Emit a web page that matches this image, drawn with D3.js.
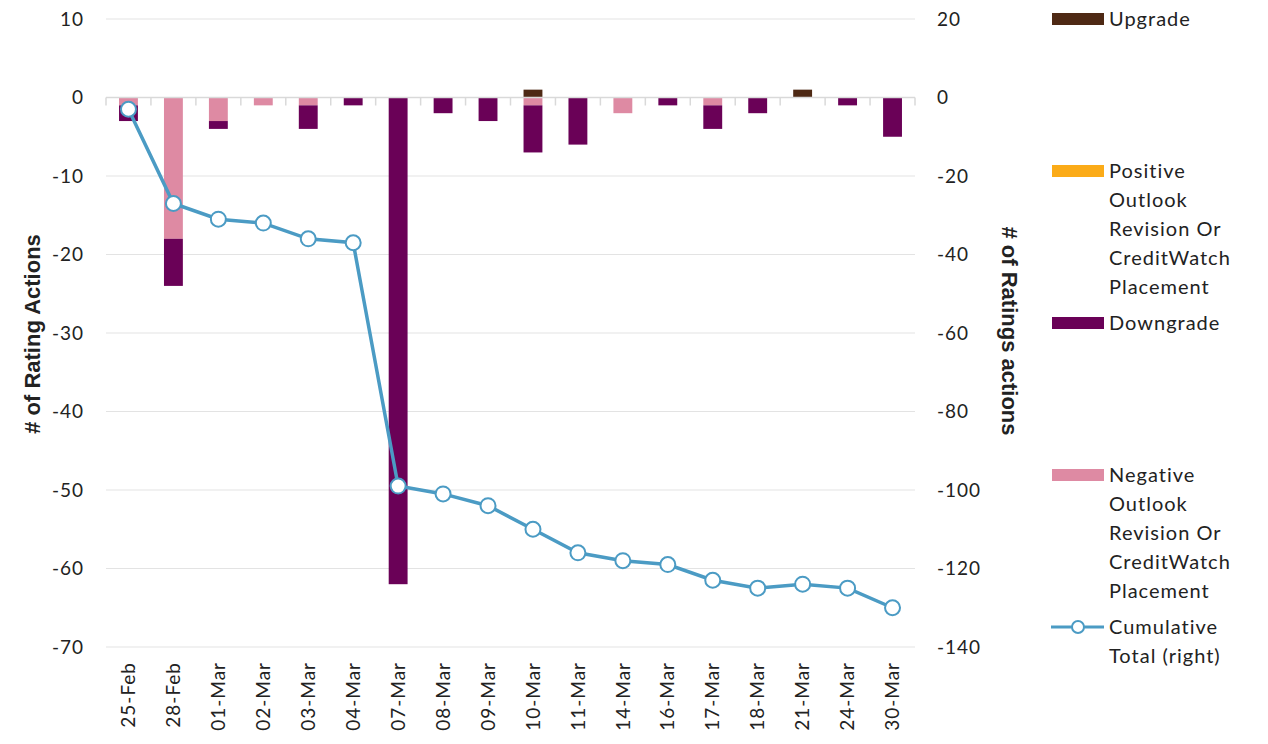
<!DOCTYPE html>
<html>
<head>
<meta charset="utf-8">
<script src="https://cdn.jsdelivr.net/npm/d3@7"></script>
<style>
  body { margin: 0; background: #fff; }
  svg text { font-family: Lato, "DejaVu Sans", sans-serif; fill: #222; }
</style>
</head>
<body>
<svg id="chart" width="1268" height="744"></svg>
<script>
// Rating actions per day
const dates = ["25-Feb","28-Feb","01-Mar","02-Mar","03-Mar","04-Mar","07-Mar","08-Mar","09-Mar","10-Mar","11-Mar","14-Mar","16-Mar","17-Mar","18-Mar","21-Mar","24-Mar","30-Mar"];
const upgrade     = [0,0,0,0,0,0,0,0,0,1,0,0,0,0,0,1,0,0];
const positiveOut = [0,0,0,0,0,0,0,0,0,0,0,0,0,0,0,0,0,0];
const negativeOut = [-1,-18,-3,-1,-1,0,0,0,0,-1,0,-2,0,-1,0,0,0,0];
const downgrade   = [-2,-6,-1,0,-3,-1,-62,-2,-3,-6,-6,0,-1,-3,-2,0,-1,-5];
const cumulative  = [-3,-27,-31,-32,-36,-37,-99,-101,-104,-110,-116,-118,-119,-123,-125,-124,-125,-130];
const leftTicks  = [10,0,-10,-20,-30,-40,-50,-60,-70];
const rightTicks = [20,0,-20,-40,-60,-80,-100,-120,-140];

const colors = {
  upgrade: "#4e2914",
  positive: "#fbab18",
  downgrade: "#6a0157",
  negative: "#de8aa3",
  line: "#4b9bc4"
};

const svg = d3.select("#chart");
const plot = { left: 106, right: 915, top: 19, bottom: 647 };

const x = d3.scaleBand().domain(dates).range([plot.left, plot.right]).paddingInner(0.58).paddingOuter(0.29);
const xb = d3.scaleBand().domain(dates).range([plot.left, plot.right]);
const yL = d3.scaleLinear().domain([-70, 10]).range([plot.bottom, plot.top]);
const yR = d3.scaleLinear().domain([-140, 20]).range([plot.bottom, plot.top]);

// gridlines
svg.append("g").selectAll("line").data(leftTicks.filter(d => d !== 0)).join("line")
  .attr("x1", plot.left).attr("x2", plot.right)
  .attr("y1", d => yL(d)).attr("y2", d => yL(d))
  .attr("stroke", "#e3e3e3").attr("stroke-width", 1);

// left axis labels
svg.append("g").selectAll("text").data(leftTicks).join("text")
  .attr("x", 84).attr("y", d => yL(d)).attr("dy", "0.35em")
  .attr("text-anchor", "end").attr("font-size", 19).attr("letter-spacing", 1)
  .text(d => d);

// right axis labels
svg.append("g").selectAll("text").data(rightTicks).join("text")
  .attr("x", 937).attr("y", d => yR(d)).attr("dy", "0.35em")
  .attr("text-anchor", "start").attr("font-size", 19).attr("letter-spacing", 1)
  .text(d => d);

// stacked bars: positive values stack upward, negatives stack downward
const bars = svg.append("g");
dates.forEach((d, i) => {
  let up = 0, down = 0;
  const parts = [
    { v: upgrade[i], c: colors.upgrade },
    { v: positiveOut[i], c: colors.positive },
    { v: negativeOut[i], c: colors.negative },
    { v: downgrade[i], c: colors.downgrade }
  ];
  parts.forEach(p => {
    if (p.v === 0) return;
    let y0, y1;
    if (p.v > 0) { y0 = up; y1 = up + p.v; up = y1; }
    else { y0 = down; y1 = down + p.v; down = y1; }
    bars.append("rect")
      .attr("x", x(d)).attr("width", x.bandwidth())
      .attr("y", yL(Math.max(y0, y1)))
      .attr("height", Math.abs(yL(y0) - yL(y1)))
      .attr("fill", p.c);
  });
});

// zero axis line with category ticks
const zeroY = yL(0);
svg.append("line").attr("x1", plot.left).attr("x2", plot.right)
  .attr("y1", zeroY).attr("y2", zeroY).attr("stroke", "#d9d9d9").attr("stroke-width", 1.5);
svg.append("g").selectAll("line").data(dates.concat(["__end"])).join("line")
  .attr("x1", (d, i) => plot.left + i * xb.step()).attr("x2", (d, i) => plot.left + i * xb.step())
  .attr("y1", zeroY).attr("y2", zeroY + 8)
  .attr("stroke", "#d9d9d9").attr("stroke-width", 1.5);

// x labels
svg.append("g").selectAll("text").data(dates).join("text")
  .attr("transform", d => `translate(${x(d) + x.bandwidth() / 2},662) rotate(-90)`)
  .attr("dy", "0.35em").attr("text-anchor", "end")
  .attr("font-size", 19).attr("letter-spacing", 1)
  .text(d => d);

// cumulative line
const cx = d => x(d) + x.bandwidth() / 2;
svg.append("path").datum(cumulative)
  .attr("d", d3.line().x((v, i) => cx(dates[i])).y(v => yR(v)))
  .attr("fill", "none").attr("stroke", colors.line).attr("stroke-width", 3.5);
svg.append("g").selectAll("circle").data(cumulative).join("circle")
  .attr("cx", (v, i) => cx(dates[i])).attr("cy", v => yR(v)).attr("r", 7.5)
  .attr("fill", "#fff").attr("stroke", colors.line).attr("stroke-width", 2);

// axis titles
svg.append("text")
  .attr("transform", "translate(32,334) rotate(-90)")
  .attr("dy", "0.35em").attr("text-anchor", "middle")
  .style("font-family", "'Liberation Sans', Arial, sans-serif")
  .attr("font-size", 22).attr("font-weight", "bold").attr("fill", "#111")
  .text("# of Rating Actions");
svg.append("text")
  .attr("transform", "translate(1010,331) rotate(90)")
  .attr("dy", "0.35em").attr("text-anchor", "middle")
  .style("font-family", "'Liberation Sans', Arial, sans-serif")
  .attr("font-size", 22).attr("font-weight", "bold").attr("fill", "#111")
  .text("# of Ratings actions");

// legend
const legendItems = [
  { lines: ["Upgrade"], c: colors.upgrade, y: 19 },
  { lines: ["Positive", "Outlook", "Revision Or", "CreditWatch", "Placement"], c: colors.positive, y: 171 },
  { lines: ["Downgrade"], c: colors.downgrade, y: 323 },
  { lines: ["Negative", "Outlook", "Revision Or", "CreditWatch", "Placement"], c: colors.negative, y: 475 },
  { lines: ["Cumulative", "Total (right)"], c: colors.line, y: 627, line: true }
];
const lg = svg.append("g");
legendItems.forEach(it => {
  if (it.line) {
    lg.append("line").attr("x1", 1051).attr("x2", 1104).attr("y1", it.y).attr("y2", it.y)
      .attr("stroke", it.c).attr("stroke-width", 3);
    lg.append("circle").attr("cx", 1078).attr("cy", it.y).attr("r", 6)
      .attr("fill", "#fff").attr("stroke", it.c).attr("stroke-width", 2);
  } else {
    lg.append("rect").attr("x", 1052).attr("y", it.y - 6).attr("width", 52).attr("height", 12).attr("fill", it.c);
  }
  it.lines.forEach((t, j) => {
    lg.append("text").attr("x", 1109).attr("y", it.y + j * 29).attr("dy", "0.35em")
      .attr("font-size", 20).attr("letter-spacing", 1).text(t);
  });
});
</script>
</body>
</html>
